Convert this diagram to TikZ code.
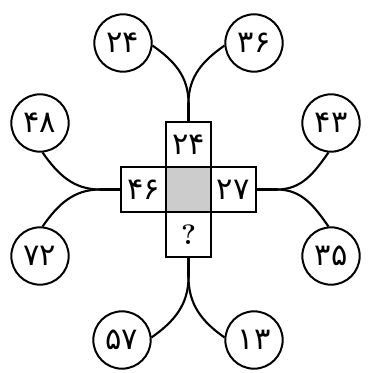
\documentclass[tikz,border=0pt]{standalone}
\usepackage{fontspec}
\newfontfamily\farsifont[Script=Arabic]{DejaVu Sans}
\tikzset{
  numcircle/.style={draw,circle,line width=1.7pt,minimum size=1.72cm,inner sep=0pt,
    font=\farsifont\fontsize{26}{26}\selectfont},
  cellbox/.style={draw,line width=1.7pt,minimum size=1.34cm,inner sep=0pt,outer sep=0pt,
    font=\farsifont\fontsize{26}{26}\selectfont},
  branch/.style={line width=1.8pt}
}

\begin{document}
\begin{tikzpicture}[x=0.03cm,y=-0.03cm]
  \useasboundingbox (0,0) rectangle (370,373);
  % the cross of cells
  \node[cellbox,fill=black!20] (mid) at (188.5,189.5) {};
  \node[cellbox] (up) at (188.5,144.8) {۲۴};
  \node[cellbox] (down) at (188.5,234.2) {\rmfamily\bfseries\fontsize{24}{24}\selectfont ?};
  \node[cellbox] (left) at (143.8,189.5) {۴۶};
  \node[cellbox] (right) at (233.2,189.5) {۲۷};
  % numbers round it
  \node[numcircle] (c24) at (123,43) {۲۴};
  \node[numcircle] (c36) at (254,43) {۳۶};
  \node[numcircle] (c48) at (40,123) {۴۸};
  \node[numcircle] (c72) at (40,256) {۷۲};
  \node[numcircle] (c43) at (331,123) {۴۳};
  \node[numcircle] (c35) at (331,256) {۳۵};
  \node[numcircle] (c57) at (122,340) {۵۷};
  \node[numcircle] (c13) at (254,340) {۱۳};
  \coordinate (tj) at (188.5,103);
  \coordinate (bj) at (188.5,277);
  \coordinate (lj) at (100,189.5);
  \coordinate (rj) at (277,189.5);
  \draw[branch] (up.north) -- (tj);
  \draw[branch] (down.south) -- (bj);
  \draw[branch] (left.west) -- (lj);
  \draw[branch] (right.east) -- (rj);
  \draw[branch] (c24.-5) to[out=-35,in=90] (tj);
  \draw[branch] (c36.185) to[out=215,in=90] (tj);
  \draw[branch] (c57.5) to[out=35,in=-90] (bj);
  \draw[branch] (c13.175) to[out=145,in=-90] (bj);
  \draw[branch] (c48.-85) to[out=-55,in=180] (lj);
  \draw[branch] (c72.85) to[out=55,in=180] (lj);
  \draw[branch] (c43.265) to[out=235,in=0] (rj);
  \draw[branch] (c35.95) to[out=125,in=0] (rj);
\end{tikzpicture}
\end{document}
